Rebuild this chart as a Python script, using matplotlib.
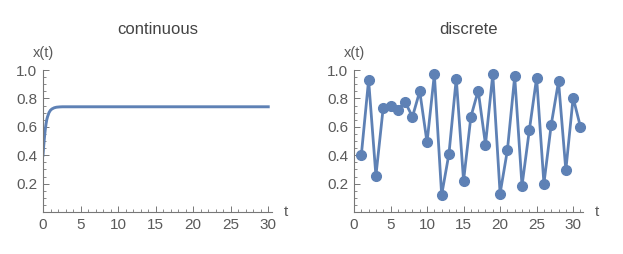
import matplotlib
matplotlib.use("Agg")
import matplotlib.pyplot as plt
from matplotlib.ticker import MultipleLocator

plt.rcParams['font.family'] = ['Liberation Sans', 'DejaVu Sans']

# continuous solution
t_cont = [0, 0.1, 0.2, 0.3, 0.4, 0.5, 0.6, 0.8, 1.0, 1.2, 1.5, 1.8, 2.2, 2.6, 3.0, 5, 10, 15, 20, 25, 30]
x_cont = [0.40, 0.47, 0.53, 0.58, 0.62, 0.65, 0.67, 0.70, 0.717, 0.726, 0.734, 0.738, 0.740, 0.741, 0.741,
          0.741, 0.741, 0.741, 0.741, 0.741, 0.741]

# discrete iterates
t_disc = list(range(1, 32))
x_disc = [0.40, 0.93, 0.255, 0.735, 0.745, 0.72, 0.775, 0.67, 0.85, 0.49,
          0.97, 0.12, 0.41, 0.94, 0.22, 0.67, 0.855, 0.475, 0.97, 0.13,
          0.435, 0.955, 0.185, 0.575, 0.945, 0.20, 0.615, 0.92, 0.295, 0.805, 0.60]

col = '#5E81B5'
txt = '#5a5a5a'
W, H = 623, 254

fig = plt.figure(figsize=(W / 100, H / 100), dpi=100)
ax1 = fig.add_axes([43 / W, 42 / H, 229 / W, 142 / H])
ax2 = fig.add_axes([354 / W, 42 / H, 229 / W, 142 / H])

ax1.plot(t_cont, x_cont, color=col, lw=2.1)
ax1.set_xlim(0, 30.5)
ax2.plot(t_disc, x_disc, color=col, lw=2.0, marker='o', ms=7, clip_on=False)
ax2.set_xlim(0, 31.35)

for ax, title in [(ax1, 'continuous'), (ax2, 'discrete')]:
    ax.set_ylim(0, 1.0)
    for s in ['top', 'right']:
        ax.spines[s].set_visible(False)
    for s in ['left', 'bottom']:
        ax.spines[s].set_color('#777777')
        ax.spines[s].set_linewidth(0.8)
    ax.xaxis.set_major_locator(MultipleLocator(5))
    ax.xaxis.set_minor_locator(MultipleLocator(1))
    ax.yaxis.set_major_locator(MultipleLocator(0.2))
    ax.yaxis.set_minor_locator(MultipleLocator(0.05))
    ax.set_yticks([0.2, 0.4, 0.6, 0.8, 1.0])
    ax.set_yticklabels(['0.2', '0.4', '0.6', '0.8', '1.0'])
    ax.tick_params(which='major', direction='in', length=4, width=0.7, color='#777777',
                   labelsize=11, labelcolor=txt, pad=4)
    ax.tick_params(which='minor', direction='in', length=2, width=0.6, color='#777777')
    ax.set_title(title, fontsize=12, color='#444444', pad=26)
    ax.text(0, 1.07, 'x(t)', transform=ax.transAxes, fontsize=10.5, color=txt,
            ha='center', va='bottom')
    ax.text(1.06, 0.0, 't', transform=ax.transAxes, fontsize=11, color=txt,
            ha='center', va='center')

fig.savefig('out.png', dpi=100)
